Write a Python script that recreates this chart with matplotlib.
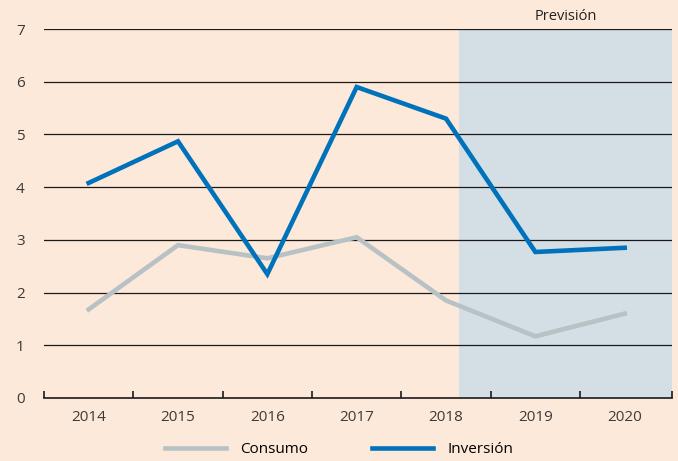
import matplotlib.pyplot as plt
import numpy as np

plt.rcParams['font.family'] = ['Open Sans', 'DejaVu Sans']
plt.rcParams['xtick.direction'] = 'in'

years = [2014, 2015, 2016, 2017, 2018, 2019, 2020]
consumo = [1.68, 2.9, 2.65, 3.05, 1.85, 1.17, 1.6]
inversion = [4.08, 4.87, 2.35, 5.9, 5.3, 2.77, 2.85]
forecast_start = 2018.15

bg = '#fde9da'
fig = plt.figure(figsize=(6.78, 4.61), dpi=100, facecolor=bg)
ax = fig.add_axes([0.0649, 0.1367, 0.9263, 0.8003], facecolor=bg)

ax.set_xlim(2013.5, 2020.53)
ax.set_ylim(0, 7)

# forecast shading
ax.axvspan(forecast_start, 2020.53, color='#d3dee5', zorder=0, lw=0)
ax.text((forecast_start + 2020.53) / 2, 7.09, 'Previsión', ha='center', va='bottom',
        fontsize=10.5, color='#222222')

for y in range(1, 8):
    ax.axhline(y, color='#1a1a1a', lw=0.9, zorder=1)

ax.plot(years, consumo, color='#b8c2c4', lw=3.3, solid_joinstyle='miter', zorder=3, label='Consumo')
ax.plot(years, inversion, color='#0072bb', lw=3.3, solid_joinstyle='miter', zorder=4, label='Inversión')

for s in ['top', 'right', 'left']:
    ax.spines[s].set_visible(False)
ax.spines['bottom'].set_color('#1a1a1a')
ax.spines['bottom'].set_linewidth(1.2)

ax.set_yticks(range(0, 8))
ax.tick_params(axis='y', length=0, labelsize=11, labelcolor='#3a3a3a', pad=14)
ax.set_xticks(years)
ax.set_xticklabels([str(y) for y in years])
ax.tick_params(axis='x', which='major', length=0, labelsize=11, labelcolor='#3a3a3a', pad=9)
ax.set_xticks(np.arange(2013.5, 2020.6, 1.0)[:7].tolist() + [2020.53], minor=True)
ax.tick_params(axis='x', which='minor', direction='in', length=5, width=1.2, color='#1a1a1a')

fig.legend(loc='lower center', bbox_to_anchor=(0.5, -0.022), ncol=2, frameon=False,
           fontsize=11, handlelength=4.0, columnspacing=4.2, handletextpad=0.9)

fig.savefig('out.png', dpi=100, facecolor=bg)
